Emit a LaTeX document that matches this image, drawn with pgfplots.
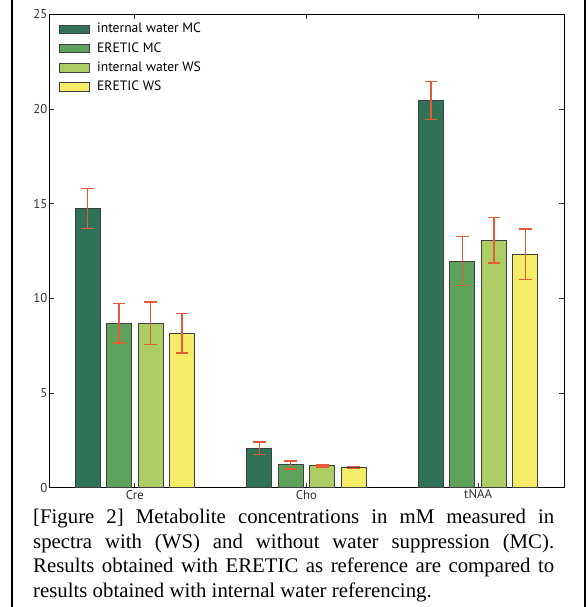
\documentclass[border=0pt]{standalone}
\usepackage{pgfplots}
\pgfplotsset{compat=1.18}
\usepackage{fontspec}
\setmainfont{Liberation Serif}
\newfontfamily\chartfont{PT Sans}

\definecolor{c1}{RGB}{47,114,88}
\definecolor{c2}{RGB}{93,162,91}
\definecolor{c3}{RGB}{172,205,99}
\definecolor{c4}{RGB}{245,236,104}
\definecolor{errc}{RGB}{232,90,55}
\definecolor{tickc}{RGB}{50,50,50}

\pgfplotsset{
  barstyle/.style={draw=black!75, line width=1pt,
    error bars/y dir=both, error bars/y explicit,
    error bars/error bar style={draw=errc, line width=1.3pt},
    error bars/error mark options={rotate=90, mark size=6.3pt, draw=errc, line width=1.3pt}},
  boxlegend/.style={legend image code/.code={
    \draw[##1, draw=black!75, line width=1pt] (0pt,-4.2pt) rectangle (30pt,4.2pt);}}
}

\begin{document}
\begin{tikzpicture}
\useasboundingbox (0,0) rectangle (587pt,607pt);
% outer frame (left and right sides only)
\draw[line width=1.3pt] (12pt,0) -- (12pt,607pt);
\draw[line width=1.3pt] (585pt,0) -- (585pt,607pt);

\begin{axis}[
    at={(49pt,119.3pt)}, anchor=south west,
    scale only axis, width=515pt, height=473.4pt,
    ybar=6.6pt, bar width=0.145,
    xmin=-0.5, xmax=2.5, ymin=0, ymax=25,
    xtick={0,1,2}, xticklabels={Cre,Cho,tNAA},
    ytick={0,5,10,15,20,25},
    tick align=inside, major tick length=5pt,
    axis line style={line width=1pt},
    tick style={color=tickc, line width=0.8pt},
    /pgf/number format/assume math mode=true,
    tick label style={font=\chartfont\fontsize{12.8}{14}\selectfont, text=tickc},
    yticklabel style={inner sep=1.5pt},
    xticklabel style={inner sep=2pt},
    legend style={draw=none, fill=none, at={(0,1)}, anchor=north west,
      xshift=10pt, yshift=-9pt, inner sep=0pt,
      font=\chartfont\fontsize{13.6}{15}\selectfont,
      nodes={inner sep=0pt, text height=9.5pt, text depth=2.5pt},
      row sep=7.2pt, column sep=7pt},
    legend cell align=left,
    boxlegend
]
\addplot[fill=c1, barstyle] coordinates {(0,14.75) +- (0,1.06) (1,2.08) +- (0,0.34) (2,20.45) +- (0,0.99)};
\addplot[fill=c2, barstyle] coordinates {(0,8.68) +- (0,1.04) (1,1.20) +- (0,0.21) (2,11.97) +- (0,1.28)};
\addplot[fill=c3, barstyle] coordinates {(0,8.68) +- (0,1.12) (1,1.15) +- (0,0.05) (2,13.06) +- (0,1.20)};
\addplot[fill=c4, barstyle] coordinates {(0,8.15) +- (0,1.04) (1,1.08) +- (0,0.05) (2,12.32) +- (0,1.34)};
\legend{internal water MC, ERETIC MC, internal water WS, ERETIC WS}
\end{axis}

% caption
\begin{scope}[every node/.style={anchor=base west, inner sep=0pt, font=\fontsize{20.8}{24.7}\selectfont}]
\node at (33pt,83.7pt) {\makebox[521pt][s]{[Figure 2] Metabolite concentrations in mM measured in}};
\node at (33pt,58.9pt) {\makebox[521pt][s]{spectra with (WS) and without water suppression (MC).}};
\node at (33pt,34.3pt) {\makebox[521pt][s]{Results obtained with ERETIC as reference are compared to}};
\node at (33pt,9.7pt) {results obtained with internal water referencing.};
\end{scope}
\end{tikzpicture}
\end{document}
